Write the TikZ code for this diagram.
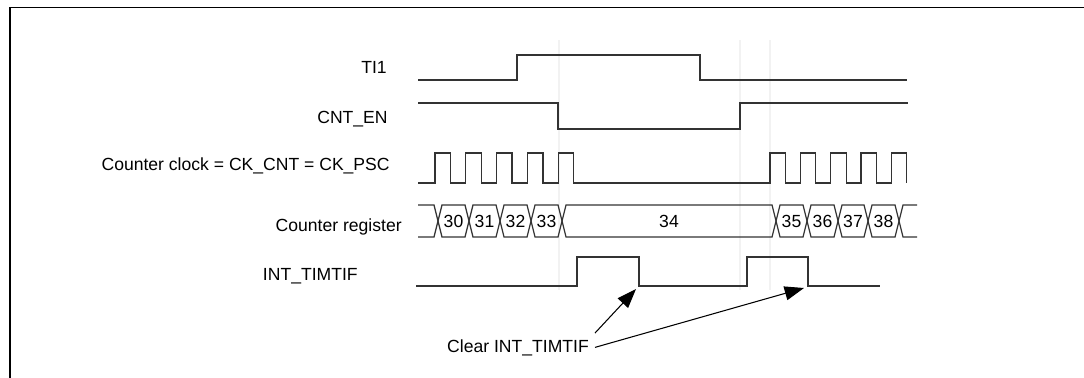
\documentclass[tikz,border=0pt]{standalone}
\usepackage{fontspec}
\setmainfont{Liberation Sans}
\usetikzlibrary{arrows.meta,positioning}
\begin{document}
\begin{tikzpicture}[x=0.02cm, y=-0.02cm, font=\fontsize{10}{12}\selectfont,
    wave/.style={draw=black!80, line width=0.7pt, line join=miter},
    guide/.style={draw=black!5, line width=0.8pt},
    siglabel/.style={anchor=base east, inner sep=0pt},
    clrarrow/.style={draw=black, line width=0.6pt, -{Triangle[length=11pt,width=8pt]}}]
	\useasboundingbox (0,0) rectangle (1084,378);
	\draw[line width=1.1pt] (10,380) -- (10,7.5) -- (1086,7.5);
	% faint guide lines
	\foreach \gx in {559,740,770}
		\draw[guide] (\gx,40) -- (\gx,290);
	% signal names
	\node[siglabel] (ti1) at (387,73.5) {TI1};
	\node[siglabel] (cnten) at (388,124) {CNT\_EN};
	\node[siglabel] (ckcnt) at (390,171) {Counter clock = CK\_CNT = CK\_PSC};
	\node[siglabel] (cntreg) at (402,231) {Counter register};
	\node[siglabel] (timtif) at (358,280) {INT\_TIMTIF};
	% TI1
	\draw[wave] (418,80) -- (517,80) -- (517,55) -- (700,55) -- (700,80) -- (907,80);
	% CNT_EN
	\draw[wave] (418,103) -- (558,103) -- (558,129) -- (740,129) -- (740,103) -- (908,103);
	% counter clock
	\draw[wave] (418,183)
		\foreach \r in {435,465.8,496.6,527.4,558.2,770,800.3,830.6,860.9,891.2}
			{ -- (\r,183) -- (\r,153) -- (\r+15.5,153) -- (\r+15.5,183) };
	% counter register
	\draw[wave] (418,205) -- (434,205) -- (438,221) -- (434,237) -- (418,237);
	\foreach \a/\b/\v in {438/469/30, 469/500/31, 500/531/32, 531/562/33, 562/776/34,
			776/807/35, 807/838/36, 838/868/37, 868/899/38}
	{
		\draw[wave] (\a,221) -- (\a+4,205) -- (\b-4,205) -- (\b,221) -- (\b-4,237) -- (\a+4,237) -- cycle;
		\node[anchor=base, inner sep=0pt] (val\v) at ({(\a+\b)/2},227) {\v};
	}
	\draw[wave] (917,205) -- (903,205) -- (899,221) -- (903,237) -- (917,237);
	% INT_TIMTIF
	\draw[wave] (416,286) -- (577,286) -- (577,257) -- (639,257) -- (639,286)
		-- (747,286) -- (747,257) -- (808,257) -- (808,286) -- (880,286);
	% clear arrows
	\node[anchor=base] (clear) at (518,352) {Clear INT\_TIMTIF};
	\coordinate (clr1) at (636,289);
	\coordinate (clr2) at (804,288);
	\draw[clrarrow] (clear.north east) -- (clr1);
	\draw[clrarrow] (clear.east) -- (clr2);
\end{tikzpicture}
\end{document}
